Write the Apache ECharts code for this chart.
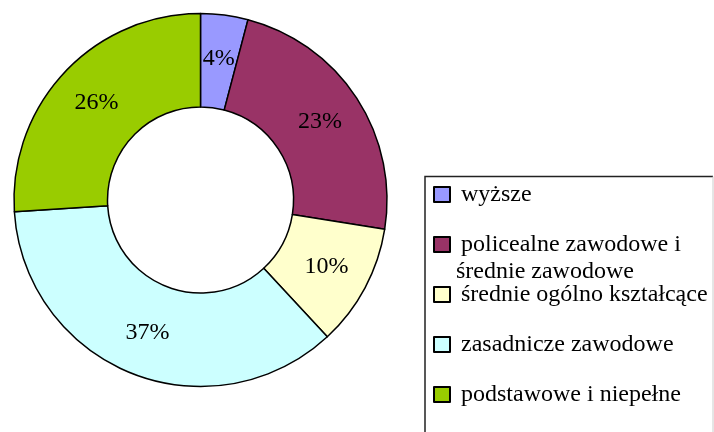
<!DOCTYPE html>
<html>
<head>
<meta charset="utf-8">
<script src="https://cdn.jsdelivr.net/npm/echarts@6/dist/echarts.min.js"></script>
<style>
  html, body { margin: 0; padding: 0; background: #fff; }
  #main { width: 714px; height: 432px; }
</style>
</head>
<body>
<div id="main"></div>
<script>
// kategorie wykształcenia (druga linia nazwy idzie pod spód w legendzie)
var categories = ['wyższe', 'policealne zawodowe i\nśrednie zawodowe', 'średnie ogólno kształcące', 'zasadnicze zawodowe', 'podstawowe i niepełne'];
var shares = [4.1, 23.4, 10.6, 35.9, 26.0];
// etykiety procentowe jak na wykresie
var percentLabels = ['4%', '23%', '10%', '37%', '26%'];
var colors = ['#9999FF', '#993366', '#FFFFCC', '#CCFFFF', '#99CC00'];

var font = '"Liberation Serif", "Times New Roman", serif';

var data = [];
for (var i = 0; i < categories.length; i++) {
    data.push({ name: categories[i], value: shares[i], itemStyle: { color: colors[i] } });
}

var myChart = echarts.init(document.getElementById('main'));

var option = {
    animation: false,
    legend: {
        orient: 'vertical',
        left: 433,
        top: 182.5,
        padding: 0,
        itemWidth: 16,
        itemHeight: 15,
        itemGap: 26,
        icon: 'rect',
        itemStyle: { borderColor: '#000', borderWidth: 2 },
        textStyle: { fontFamily: font, fontSize: 24, color: '#000', lineHeight: 24, padding: [0, 0, 0, 6] },
        formatter: function (name) {
            return name.split('\n')[0];
        },
        data: categories
    },
    graphic: [
        {
            type: 'polyline',
            shape: { points: [[425, 432], [425, 176.5], [713, 176.5]] },
            style: { stroke: '#222', lineWidth: 1.5, fill: null }
        },
        {
            type: 'line',
            shape: { x1: 713, y1: 176.5, x2: 713, y2: 432 },
            style: { stroke: '#ccc', lineWidth: 1 }
        },
        {
            type: 'text',
            left: 456,
            top: 260,
            style: { text: categories[1].split('\n')[1], font: '24px ' + font, fill: '#000' }
        }
    ],
    series: [
        {
            type: 'pie',
            center: [200.5, 200],
            radius: [93, 186.5],
            startAngle: 90,
            clockwise: true,
            avoidLabelOverlap: false,
            itemStyle: { borderColor: '#000', borderWidth: 1.5 },
            label: {
                show: true,
                position: 'inside',
                fontFamily: font,
                fontSize: 24,
                color: '#000',
                formatter: function (p) {
                    return percentLabels[p.dataIndex];
                }
            },
            labelLine: { show: false },
            emphasis: { disabled: true },
            data: data
        }
    ]
};

myChart.setOption(option);
</script>
</body>
</html>
